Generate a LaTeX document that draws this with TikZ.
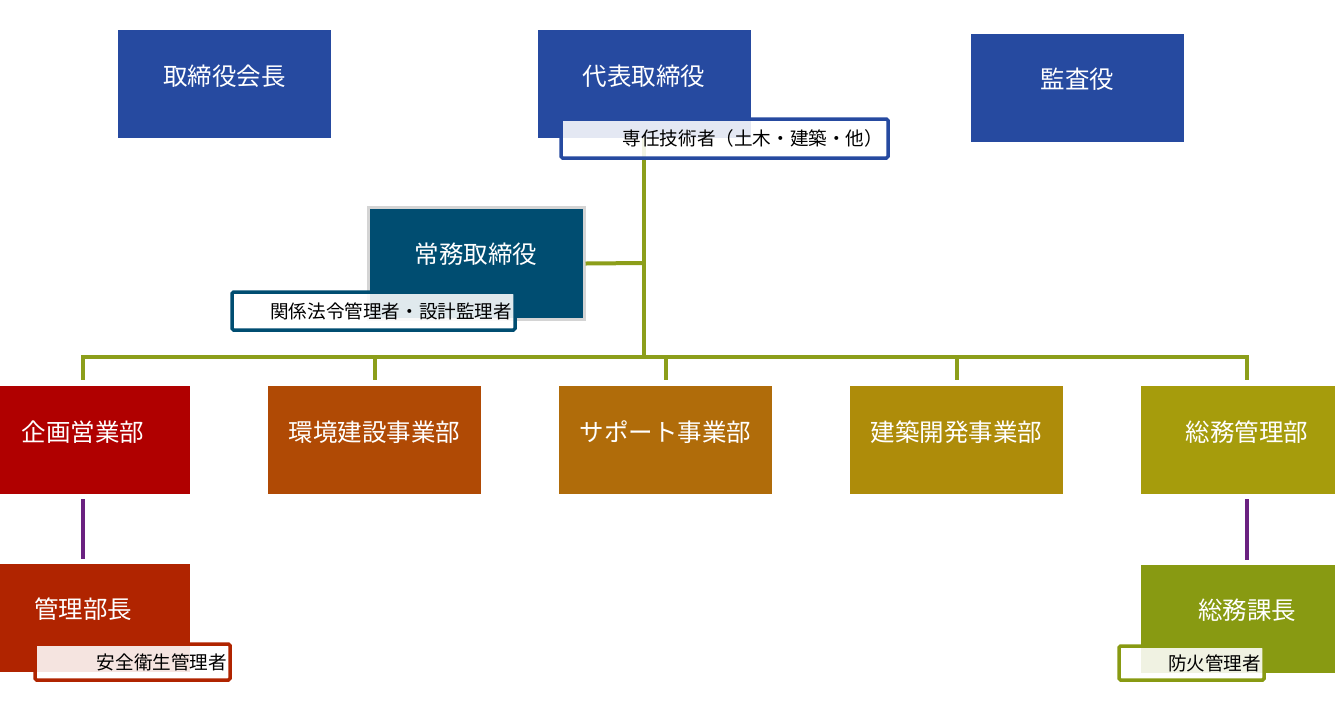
\documentclass[tikz,border=0pt]{standalone}
\usepackage{fontspec}
\setmainfont{Noto Sans CJK JP}
\definecolor{cnavy}{HTML}{264AA0}
\definecolor{cteal}{HTML}{004D71}
\definecolor{cred}{HTML}{B00000}
\definecolor{corange}{HTML}{B04A05}
\definecolor{cbrown}{HTML}{B06C0A}
\definecolor{cgold}{HTML}{AE8C0A}
\definecolor{colive}{HTML}{A69C0C}
\definecolor{crust}{HTML}{B02400}
\definecolor{cgreen}{HTML}{889A12}
\definecolor{cline}{HTML}{8C9E1A}
\definecolor{cpurple}{HTML}{6A2180}
\tikzset{
  box/.style={rectangle, minimum width=213pt, minimum height=108pt, inner sep=0pt, draw=none},
  boxtext/.style={text=white, font=\fontsize{24.5}{28}\selectfont, inner sep=0pt},
  tag/.style={rectangle, draw, line width=3.5pt, fill=white, fill opacity=0.88, text opacity=1, text=black, rounded corners=1.5pt, font=\fontsize{18.6}{21}\selectfont, align=right, inner sep=0pt},
  conn/.style={draw=cline, line width=4pt},
  sub/.style={draw=cpurple, line width=4pt}
}
\begin{document}
\begin{tikzpicture}[x=1pt,y=-1pt]
\useasboundingbox (0,0) rectangle (1335,716);
\clip (0,0) rectangle (1335,716);
% top boxes
\node[box, fill=cnavy] (chair) at (224.5,84) {};
\node[boxtext] at ([yshift=8pt]chair.center) {取締役会長};
\node[box, fill=cnavy] (pres) at (644,84) {};
\node[boxtext] at ([yshift=8pt]pres.center) {代表取締役};
\node[box, fill=cnavy] (audit) at (1077.5,87.5) {};
\node[boxtext] at ([yshift=8pt]audit.center) {監査役};
% connectors
\coordinate (jt) at (644,357);
\coordinate (jm) at (644,263);
\draw[conn] (pres.south) -- (jt);
\node[box, fill=cteal, draw=black!17, line width=3pt, minimum width=216pt, minimum height=112pt] (exec) at (476,263.5) {};
\node[boxtext] at ([yshift=9pt]exec.center) {常務取締役};
\draw[conn] (exec.east) -- (jm);
% departments
\node[box, fill=cred] (d1) at (83,440) {};
\node[boxtext] at ([yshift=8pt]d1.center) {企画営業部};
\node[box, fill=corange] (d2) at (374.5,440) {};
\node[boxtext] at ([yshift=8pt]d2.center) {環境建設事業部};
\node[box, fill=cbrown] (d3) at (665.5,440) {};
\node[boxtext] at ([yshift=8pt]d3.center) {サポート事業部};
\node[box, fill=cgold] (d4) at (956.5,440) {};
\node[boxtext] at ([yshift=8pt]d4.center) {建築開発事業部};
\node[box, fill=colive] (d5) at (1247,440) {};
\node[boxtext] at ([yshift=8pt]d5.center) {総務管理部};
\draw[conn] ([yshift=6pt]d1.north) -- (83,357) -- (1247,357) -- ([yshift=6pt]d5.north);
\draw[conn] ([yshift=6pt]d2.north) -- (374.5,357);
\draw[conn] ([yshift=6pt]d3.north) -- (665.5,357);
\draw[conn] ([yshift=6pt]d4.north) -- (956.5,357);
% sub units
\node[box, fill=crust] (m1) at (83,617.5) {};
\node[boxtext] at ([yshift=8pt]m1.center) {管理部長};
\node[box, fill=cgreen] (m2) at (1247,618.5) {};
\node[boxtext] at ([yshift=8pt]m2.center) {総務課長};
\draw[sub] ([yshift=-5pt]d1.south) -- ([yshift=4pt]m1.north);
\draw[sub] ([yshift=-5pt]d5.south) -- ([yshift=4pt]m2.north);
% tags
\node[tag, draw=cnavy, minimum width=327pt, minimum height=39pt, text width=317pt] (t1) at (724.5,138.5) {専任技術者（土木・建築・他）};
\node[tag, draw=cteal, minimum width=283pt, minimum height=38pt, text width=277pt] (t2) at (373.5,311) {関係法令管理者・設計監理者};
\node[tag, draw=crust, minimum width=195pt, minimum height=36pt, text width=189pt] (t3) at (132.5,662) {安全衛生管理者};
\node[tag, draw=cgreen, minimum width=145pt, minimum height=34pt, text width=139pt] (t4) at (1191.5,663) {防火管理者};
\end{tikzpicture}
\end{document}
